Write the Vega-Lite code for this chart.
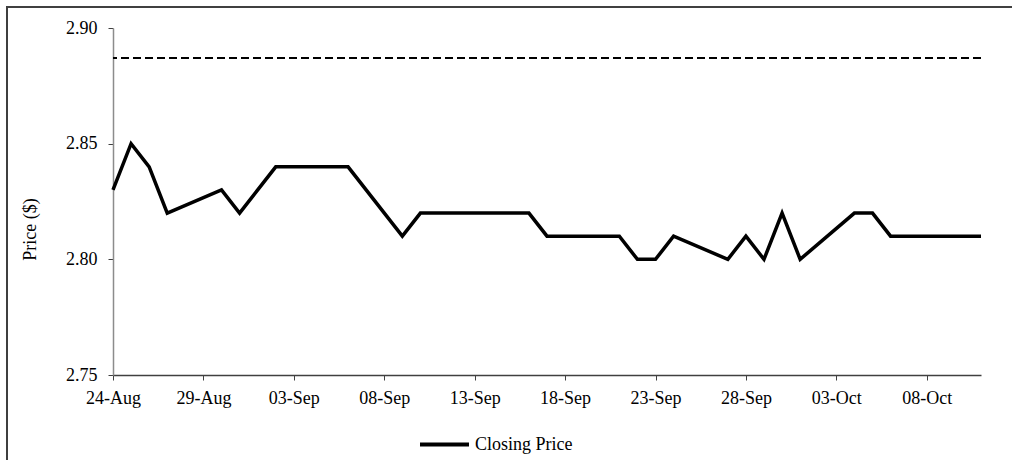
{
  "$schema": "https://vega.github.io/schema/vega-lite/v6.json",
  "width": 868,
  "height": 347,
  "autosize": {"type": "none"},
  "padding": {"left": 113, "top": 28, "right": 31, "bottom": 85},
  "background": "white",
  "config": {
    "view": {"stroke": null},
    "font": "Liberation Serif",
    "axis": {"labelFont": "Liberation Serif", "titleFont": "Liberation Serif", "labelColor": "black", "titleColor": "black", "grid": false},
    "legend": {"labelFont": "Liberation Serif"}
  },
  "data": {
    "values": [
      {"date": "2021-08-24T00:00:00", "price": 2.83},
      {"date": "2021-08-25T00:00:00", "price": 2.85},
      {"date": "2021-08-26T00:00:00", "price": 2.84},
      {"date": "2021-08-27T00:00:00", "price": 2.82},
      {"date": "2021-08-30T00:00:00", "price": 2.83},
      {"date": "2021-08-31T00:00:00", "price": 2.82},
      {"date": "2021-09-02T00:00:00", "price": 2.84},
      {"date": "2021-09-06T00:00:00", "price": 2.84},
      {"date": "2021-09-09T00:00:00", "price": 2.81},
      {"date": "2021-09-10T00:00:00", "price": 2.82},
      {"date": "2021-09-16T00:00:00", "price": 2.82},
      {"date": "2021-09-17T00:00:00", "price": 2.81},
      {"date": "2021-09-21T00:00:00", "price": 2.81},
      {"date": "2021-09-22T00:00:00", "price": 2.80},
      {"date": "2021-09-23T00:00:00", "price": 2.80},
      {"date": "2021-09-24T00:00:00", "price": 2.81},
      {"date": "2021-09-27T00:00:00", "price": 2.80},
      {"date": "2021-09-28T00:00:00", "price": 2.81},
      {"date": "2021-09-29T00:00:00", "price": 2.80},
      {"date": "2021-09-30T00:00:00", "price": 2.82},
      {"date": "2021-10-01T00:00:00", "price": 2.80},
      {"date": "2021-10-04T00:00:00", "price": 2.82},
      {"date": "2021-10-05T00:00:00", "price": 2.82},
      {"date": "2021-10-06T00:00:00", "price": 2.81},
      {"date": "2021-10-11T00:00:00", "price": 2.81}
    ]
  },
  "layer": [
    {
      "mark": {"type": "rule", "stroke": "#404040", "strokeWidth": 1.5},
      "encoding": {
        "x": {"datum": {"year": 2021, "month": 8, "date": 18, "hours": 3}, "type": "temporal"},
        "y": {"datum": 2.9092, "type": "quantitative"},
        "y2": {"datum": 2.70}
      }
    },
    {
      "mark": {"type": "rule", "stroke": "#404040", "strokeWidth": 1.5},
      "encoding": {
        "x": {"datum": {"year": 2021, "month": 8, "date": 18, "hours": 3}, "type": "temporal"},
        "x2": {"datum": {"year": 2021, "month": 10, "date": 25}},
        "y": {"datum": 2.9092, "type": "quantitative"}
      }
    },
    {
      "mark": {"type": "rule", "strokeDash": [8, 4], "strokeWidth": 1.7, "color": "black"},
      "encoding": {"y": {"datum": 2.887, "type": "quantitative"}}
    },
    {
      "mark": {"type": "line", "strokeWidth": 3.5, "strokeJoin": "miter"},
      "encoding": {
        "x": {
          "field": "date",
          "type": "temporal",
          "title": null,
          "scale": {"domain": [{"year": 2021, "month": 8, "date": 24}, {"year": 2021, "month": 10, "date": 11}]},
          "axis": {
            "values": [
              {"year": 2021, "month": 8, "date": 24},
              {"year": 2021, "month": 8, "date": 29},
              {"year": 2021, "month": 9, "date": 3},
              {"year": 2021, "month": 9, "date": 8},
              {"year": 2021, "month": 9, "date": 13},
              {"year": 2021, "month": 9, "date": 18},
              {"year": 2021, "month": 9, "date": 23},
              {"year": 2021, "month": 9, "date": 28},
              {"year": 2021, "month": 10, "date": 3},
              {"year": 2021, "month": 10, "date": 8}
            ],
            "format": "%d-%b",
            "labelFontSize": 18,
            "labelPadding": 9,
            "tickSize": 5,
            "tickColor": "#404040",
            "domainColor": "#404040",
            "domainWidth": 1.3,
            "labelFlush": false,
            "labelOverlap": false
          }
        },
        "y": {
          "field": "price",
          "type": "quantitative",
          "title": "Price ($)",
          "scale": {"domain": [2.75, 2.9], "zero": false, "nice": false},
          "axis": {
            "values": [2.75, 2.8, 2.85, 2.9],
            "format": ".2f",
            "labelFontSize": 18,
            "labelPadding": 11,
            "tickSize": 5,
            "tickColor": "#404040",
            "domainColor": "#8c8c8c",
            "domainWidth": 1.5,
            "titleFontSize": 18,
            "titleFontWeight": "normal",
            "titleAngle": -90,
            "titleX": -83,
            "titleY": 201,
            "titleAlign": "center",
            "titleBaseline": "middle"
          }
        },
        "color": {
          "datum": "Closing Price",
          "scale": {"range": ["black"]},
          "legend": {
            "title": null,
            "orient": "none",
            "legendX": 305,
            "legendY": 390,
            "symbolType": "stroke",
            "symbolSize": 2400,
            "symbolStrokeWidth": 4,
            "labelFontSize": 18,
            "labelOffset": 4,
            "labelColor": "black"
          }
        }
      }
    }
  ]
}
